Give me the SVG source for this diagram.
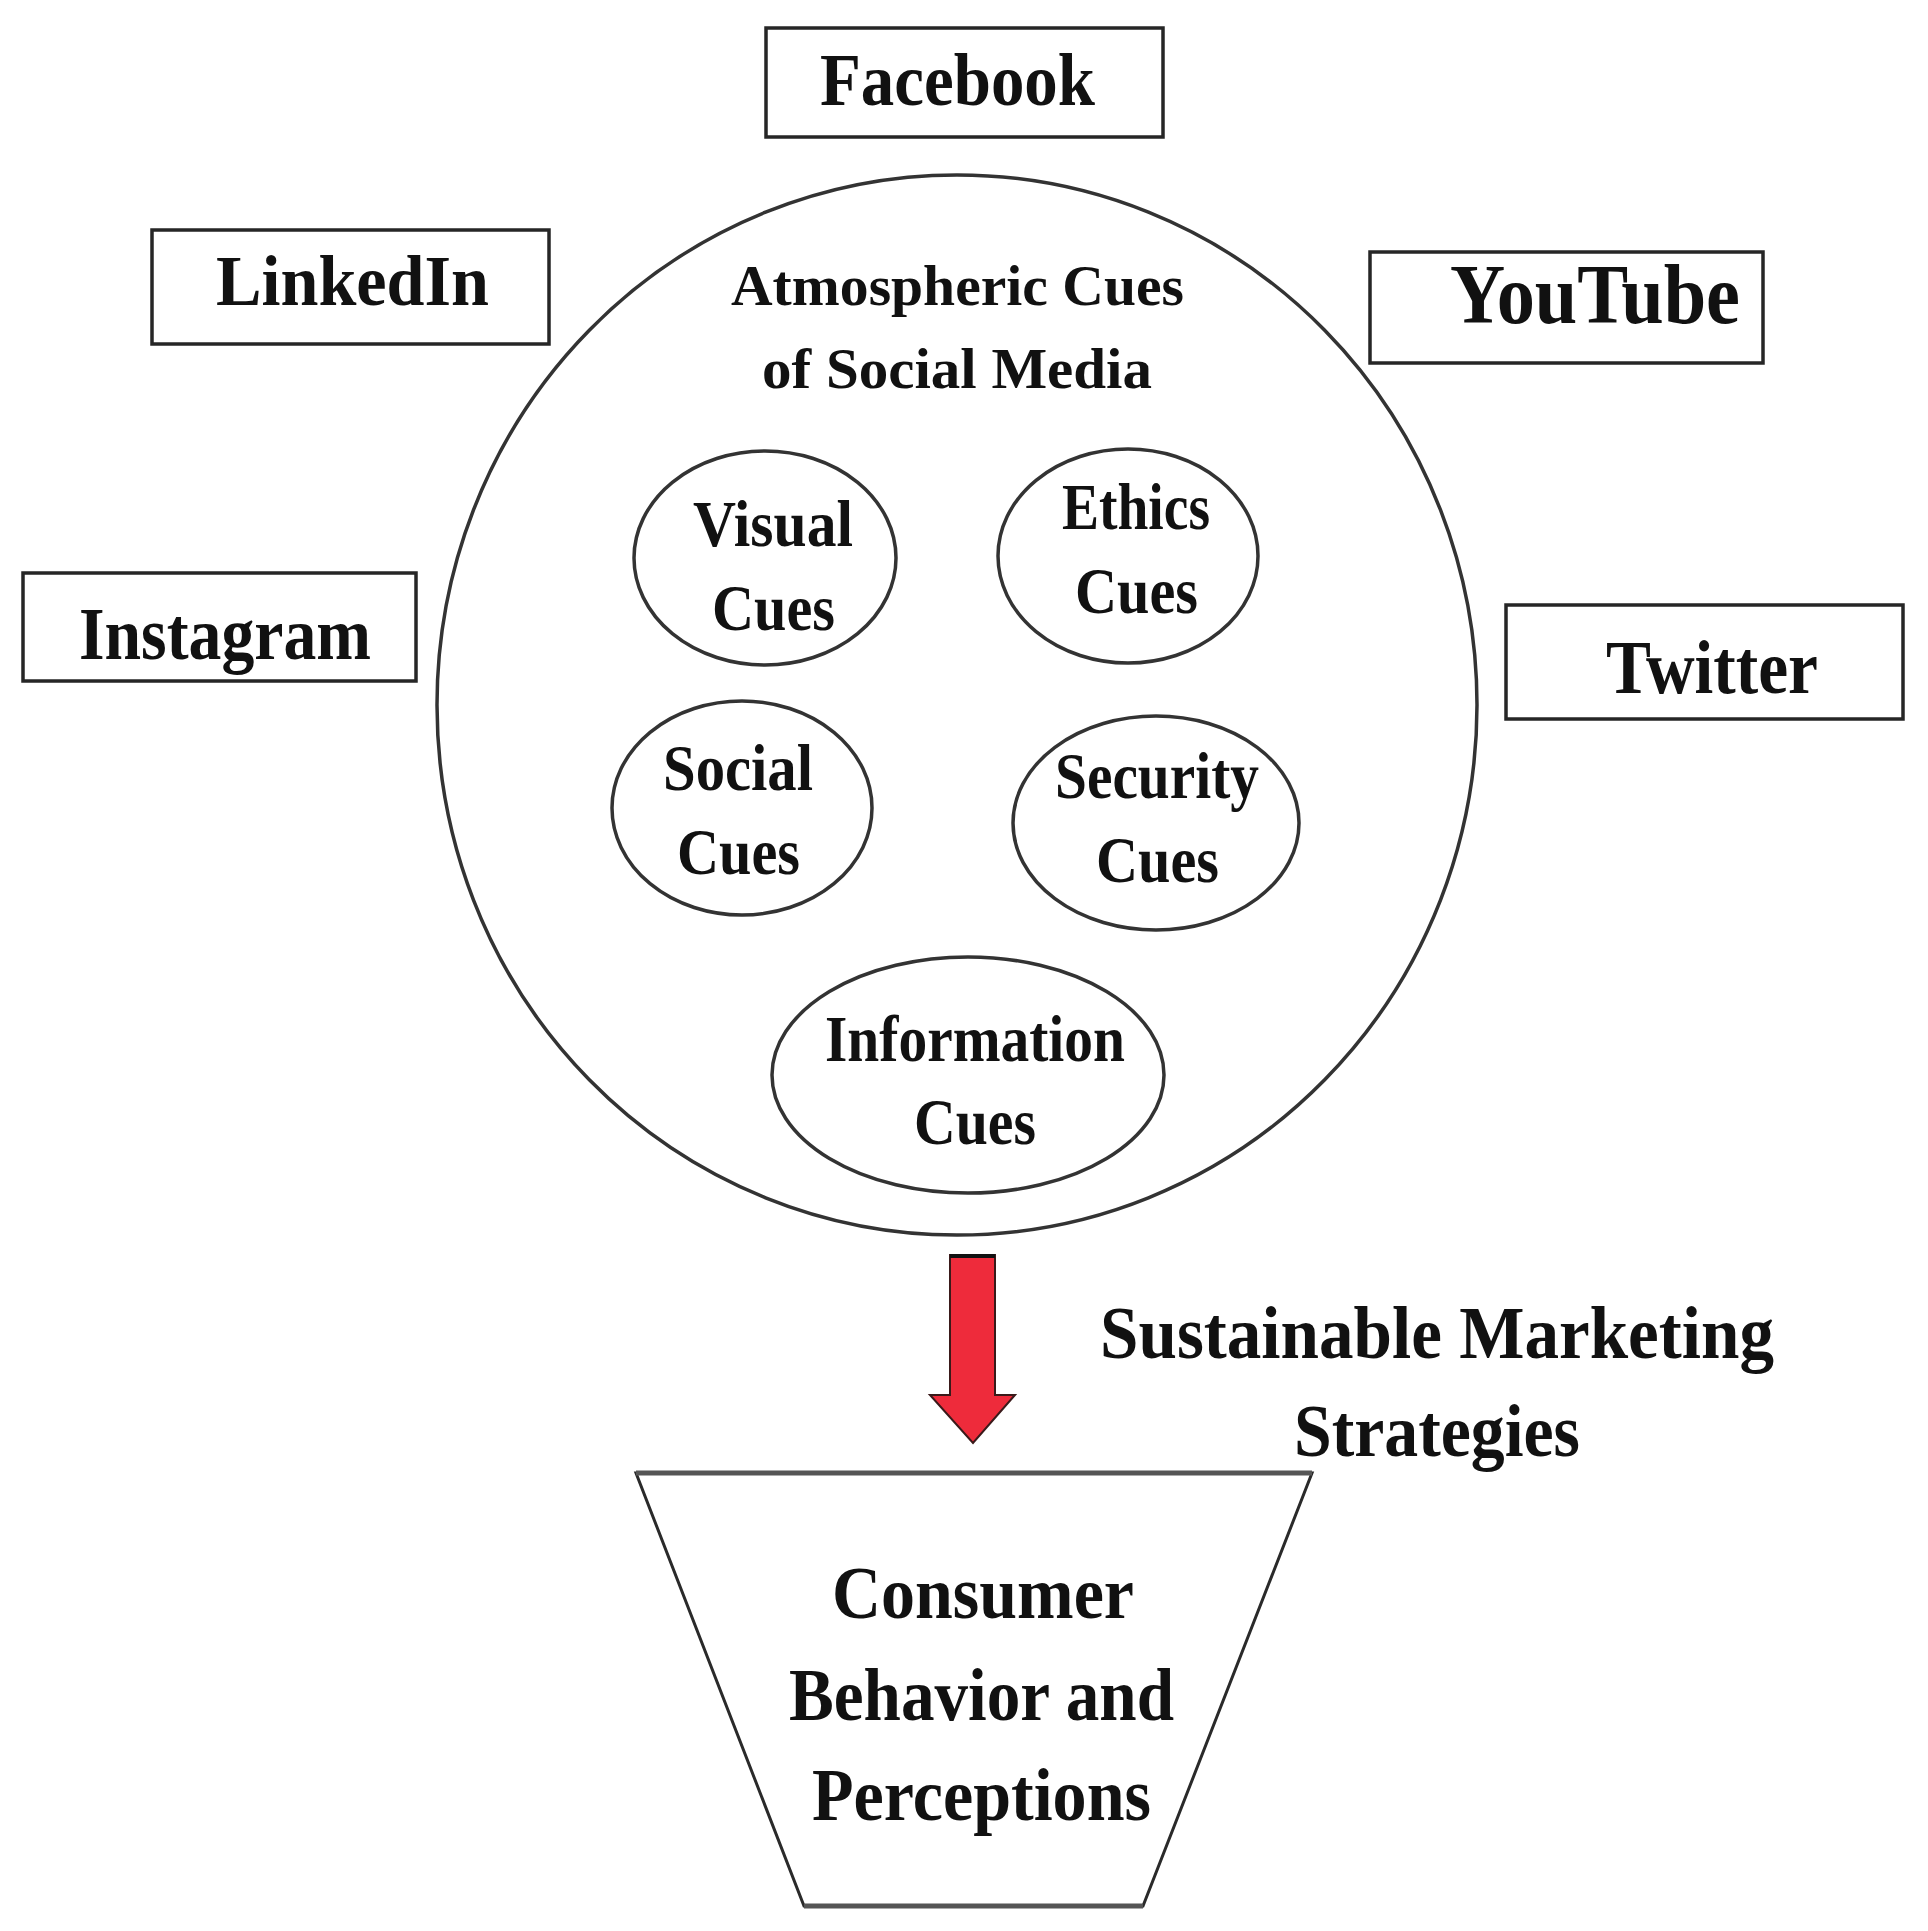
<svg xmlns="http://www.w3.org/2000/svg" width="1928" height="1931" viewBox="0 0 1928 1931">
<style>
  .box { fill: #ffffff; stroke: #262626; stroke-width: 3.5; }
  .ell { fill: none; stroke: #333333; stroke-width: 3.5; }
  .t { font-family: "Liberation Serif", "Times New Roman", serif; font-weight: bold; fill: #111111; }
</style>
<rect x="0" y="0" width="1928" height="1931" fill="#ffffff"/>

<g id="atmospheric-cues">
  <ellipse class="ell" cx="957" cy="705" rx="520" ry="530"/>
  <text class="t" x="731" y="305" font-size="58" textLength="453" lengthAdjust="spacingAndGlyphs">Atmospheric Cues</text>
  <text class="t" x="762" y="388" font-size="58" textLength="390" lengthAdjust="spacingAndGlyphs">of Social Media</text>
</g>

<g id="facebook">
  <rect class="box" x="766" y="28" width="397" height="109"/>
  <text class="t" x="820" y="105" font-size="75" textLength="275" lengthAdjust="spacingAndGlyphs">Facebook</text>
</g>
<g id="linkedin">
  <rect class="box" x="152" y="230" width="397" height="114"/>
  <text class="t" x="216" y="305" font-size="72" textLength="273" lengthAdjust="spacingAndGlyphs">LinkedIn</text>
</g>
<g id="instagram">
  <rect class="box" x="23" y="573" width="393" height="108"/>
  <text class="t" x="79" y="659" font-size="74" textLength="292" lengthAdjust="spacingAndGlyphs">Instagram</text>
</g>
<g id="youtube">
  <rect class="box" x="1370" y="252" width="393" height="111"/>
  <text class="t" x="1450" y="323" font-size="84" textLength="290" lengthAdjust="spacingAndGlyphs">YouTube</text>
</g>
<g id="twitter">
  <rect class="box" x="1506" y="605" width="397" height="114"/>
  <text class="t" x="1606" y="693" font-size="76" textLength="212" lengthAdjust="spacingAndGlyphs">Twitter</text>
</g>

<g id="visual-cues">
  <ellipse class="ell" cx="765" cy="558" rx="131" ry="107"/>
  <text class="t" x="693" y="546" font-size="66" textLength="160" lengthAdjust="spacingAndGlyphs">Visual</text>
  <text class="t" x="712" y="630" font-size="66" textLength="123" lengthAdjust="spacingAndGlyphs">Cues</text>
</g>
<g id="ethics-cues">
  <ellipse class="ell" cx="1128" cy="556" rx="130" ry="107"/>
  <text class="t" x="1062" y="529" font-size="66" textLength="148" lengthAdjust="spacingAndGlyphs">Ethics</text>
  <text class="t" x="1075" y="613" font-size="66" textLength="123" lengthAdjust="spacingAndGlyphs">Cues</text>
</g>
<g id="social-cues">
  <ellipse class="ell" cx="742" cy="808" rx="130" ry="107"/>
  <text class="t" x="663" y="790" font-size="66" textLength="150" lengthAdjust="spacingAndGlyphs">Social</text>
  <text class="t" x="677" y="874" font-size="66" textLength="123" lengthAdjust="spacingAndGlyphs">Cues</text>
</g>
<g id="security-cues">
  <ellipse class="ell" cx="1156" cy="823" rx="143" ry="107"/>
  <text class="t" x="1055" y="798" font-size="66" textLength="204" lengthAdjust="spacingAndGlyphs">Security</text>
  <text class="t" x="1096" y="882" font-size="66" textLength="123" lengthAdjust="spacingAndGlyphs">Cues</text>
</g>
<g id="information-cues">
  <ellipse class="ell" cx="968" cy="1075" rx="196" ry="118"/>
  <text class="t" x="825" y="1061" font-size="66" textLength="300" lengthAdjust="spacingAndGlyphs">Information</text>
  <text class="t" x="914" y="1144" font-size="66" textLength="122" lengthAdjust="spacingAndGlyphs">Cues</text>
</g>

<g id="connectors">
  <polygon points="950,1255 995,1255 995,1395 1015,1395 973,1443 930,1395 950,1395" fill="#ee2b3b" stroke="#3a1a1a" stroke-width="2"/>
  <line x1="950" y1="1256" x2="995" y2="1256" stroke="#111111" stroke-width="4"/>
  <text class="t" x="1100" y="1358" font-size="74" textLength="674" lengthAdjust="spacingAndGlyphs">Sustainable Marketing</text>
  <text class="t" x="1294" y="1456" font-size="74" textLength="286" lengthAdjust="spacingAndGlyphs">Strategies</text>
</g>

<g id="consumer-behavior">
  <polygon points="636,1473 1312,1473 1143,1906 804,1906" fill="#ffffff" stroke="#2a2a2a" stroke-width="3"/>
  <line x1="636" y1="1473" x2="1312" y2="1473" stroke="#555555" stroke-width="5"/>
  <line x1="804" y1="1906" x2="1143" y2="1906" stroke="#555555" stroke-width="5"/>
  <text class="t" x="832" y="1618" font-size="74" textLength="302" lengthAdjust="spacingAndGlyphs">Consumer</text>
  <text class="t" x="789" y="1720" font-size="74" textLength="385" lengthAdjust="spacingAndGlyphs">Behavior and</text>
  <text class="t" x="812" y="1820" font-size="74" textLength="339" lengthAdjust="spacingAndGlyphs">Perceptions</text>
</g>
</svg>
